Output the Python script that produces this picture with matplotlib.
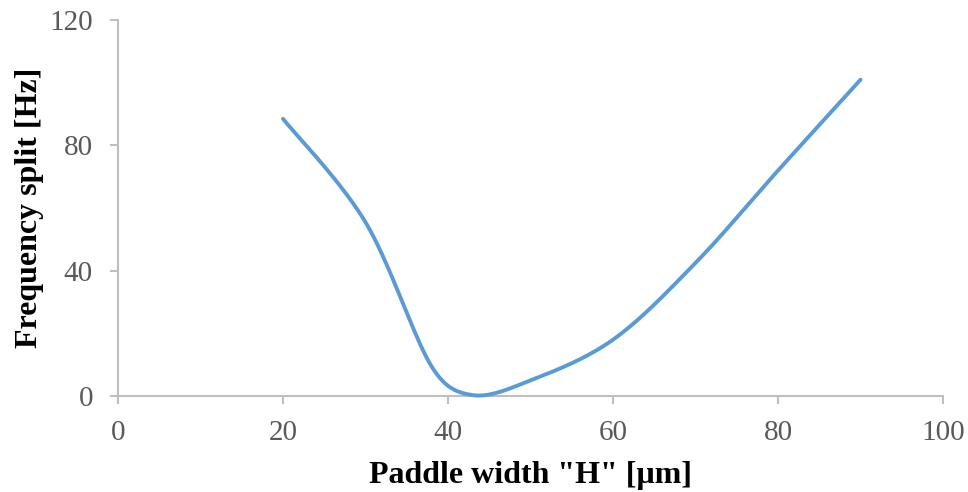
import numpy as np
import matplotlib
matplotlib.use("Agg")
import matplotlib.pyplot as plt

# Frequency split versus paddle width
paddle_width_um = [20, 30, 38, 43, 50, 60, 70, 80, 90]
freq_split_hz = [88.5, 55.5, 9.5, 0.3, 5.0, 18.0, 42.5, 72.0, 101.0]

x_ticks = [0, 20, 40, 60, 80, 100]
y_ticks = [0, 40, 80, 120]


def smooth_curve(xs, ys, sx=1.0, sy=1.0, n=60):
    """Bezier smoothing through every point; tangent handles are 1/6 of the
    neighbour chord, capped at half the adjacent segment (in screen units)."""
    pts = np.column_stack([np.asarray(xs, float) * sx, np.asarray(ys, float) * sy])
    m = len(pts)
    fwd = np.zeros_like(pts)
    bwd = np.zeros_like(pts)
    for i in range(m):
        prev = pts[i - 1] if i > 0 else pts[i]
        nxt = pts[i + 1] if i + 1 < m else pts[i]
        tan = (nxt - prev) / 6.0
        tl = np.hypot(*tan)
        if tl == 0:
            continue
        d_next = np.hypot(*(nxt - pts[i]))
        d_prev = np.hypot(*(pts[i] - prev))
        fwd[i] = tan * min(1.0, 0.5 * d_next / tl)
        bwd[i] = tan * min(1.0, 0.5 * d_prev / tl)
    t = np.linspace(0, 1, n)[:, None]
    out = []
    for i in range(m - 1):
        p0, p3 = pts[i], pts[i + 1]
        c1 = p0 + fwd[i]
        c2 = p3 - bwd[i + 1]
        seg = ((1 - t) ** 3) * p0 + 3 * ((1 - t) ** 2) * t * c1 + 3 * (1 - t) * t ** 2 * c2 + t ** 3 * p3
        out.append(seg if i == 0 else seg[1:])
    seg = np.vstack(out)
    return seg[:, 0] / sx, seg[:, 1] / sy


plt.rcParams["font.family"] = ["Liberation Serif", "DejaVu Serif"]

fig = plt.figure(figsize=(9.68, 4.92), dpi=100)
ax = fig.add_axes([0.1219, 0.195, 0.8523, 0.764])

ax.set_xlim(0, 100)
ax.set_ylim(0, 120)

# screen-space scale so smoothing behaves like it does on the rendered chart
px_per_x = fig.get_figwidth() * fig.dpi * 0.8523 / 100.0
px_per_y = fig.get_figheight() * fig.dpi * 0.764 / 120.0
cx, cy = smooth_curve(paddle_width_um, freq_split_hz, px_per_x, px_per_y)
ax.plot(cx, cy, color="#5B9BD5", lw=2.8, solid_capstyle="round", zorder=3, clip_on=False)

ax.set_xticks(x_ticks)
ax.set_yticks(y_ticks)

grey = "#BFBFBF"
for side in ("top", "right"):
    ax.spines[side].set_visible(False)
for side in ("left", "bottom"):
    ax.spines[side].set_color(grey)
    ax.spines[side].set_linewidth(1.5)

ax.tick_params(axis="both", direction="out", length=6, width=1.5, color=grey,
               labelsize=21, labelcolor="#595959")
ax.tick_params(axis="y", pad=12)
ax.tick_params(axis="x", pad=11)

ax.set_xlabel('Paddle width "H" [\u03bcm]', fontsize=23, fontweight="bold", labelpad=11)
ax.set_ylabel("Frequency split [Hz]", fontsize=23, fontweight="bold", labelpad=4)

fig.savefig("out.png", dpi=100)
